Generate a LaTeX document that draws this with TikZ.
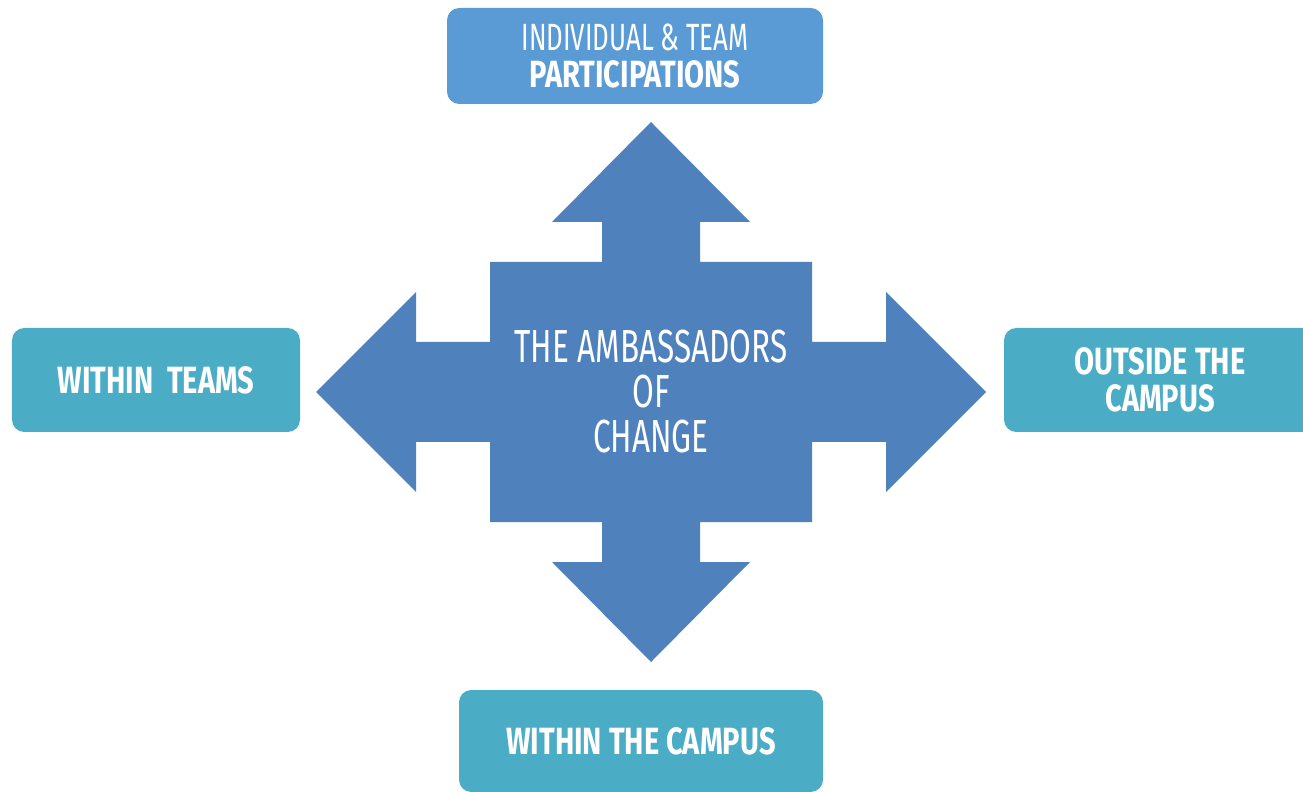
\documentclass[tikz,border=0pt]{standalone}
\usepackage{fontspec}
\newfontfamily\oswald[FakeStretch=0.68]{Fira Sans}
\newfontfamily\oswaldbold[FakeStretch=0.765]{Fira Sans}
\newcommand{\heavy}[1]{{\oswaldbold\bfseries #1}}
\usepackage{tikz}
\usetikzlibrary{positioning,calc}
\usepackage{xcolor}
\definecolor{topcolor}{RGB}{91, 155, 213}
\definecolor{sidecolor}{RGB}{75, 172, 198}
\definecolor{hubcolor}{RGB}{79, 129, 189}

\begin{document}
\begin{tikzpicture}[
    box/.style={rectangle, rounded corners=3.5pt, align=center, text=white, inner sep=0pt, font={\oswald\fontsize{10.8}{10.5}\selectfont}},
    topbox/.style={box, fill=topcolor},
    sidebox/.style={box, fill=sidecolor},
    hub/.style={fill=hubcolor},
    hubtext/.style={align=center, text=white, font={\oswald\fontsize{13.2}{12.8}\selectfont}},
]
    \clip (0, 0) rectangle (13.03, 7.91);

    % Outer boxes
    \node[topbox, minimum width=3.76cm, minimum height=0.96cm] (team) at (6.35, 7.35) {INDIVIDUAL \& TEAM\\\heavy{PARTICIPATIONS}};
    \node[sidebox, minimum width=2.88cm, minimum height=1.04cm] (within) at (1.56, 4.11) {\heavy{WITHIN\ \ TEAMS}};
    \node[sidebox, minimum width=3.12cm, minimum height=1.04cm] (outside) at (11.60, 4.11) {\heavy{OUTSIDE THE}\\\heavy{CAMPUS}};
    \node[sidebox, minimum width=3.64cm, minimum height=1.02cm] (campus) at (6.41, 0.50) {\heavy{WITHIN THE CAMPUS}};

    % Four-way arrow
    \coordinate (mid) at (6.51, 3.99);
    \fill[hub, shift={(mid)}]
        (-1.61, 1.30) -- (-0.49, 1.30) -- (-0.49, 1.70) -- (-0.99, 1.70) -- (0, 2.70)
        -- (0.99, 1.70) -- (0.49, 1.70) -- (0.49, 1.30) -- (1.61, 1.30)
        -- (1.61, 0.50) -- (2.35, 0.50) -- (2.35, 1.00) -- (3.35, 0) -- (2.35, -1.00)
        -- (2.35, -0.50) -- (1.61, -0.50) -- (1.61, -1.30) -- (0.49, -1.30)
        -- (0.49, -1.70) -- (0.99, -1.70) -- (0, -2.70) -- (-0.99, -1.70)
        -- (-0.49, -1.70) -- (-0.49, -1.30) -- (-1.61, -1.30) -- (-1.61, -0.50)
        -- (-2.35, -0.50) -- (-2.35, -1.00) -- (-3.35, 0) -- (-2.35, 1.00)
        -- (-2.35, 0.50) -- (-1.61, 0.50) -- cycle;
    \node[hubtext] (core) at (mid) {THE AMBASSADORS\\OF\\CHANGE};
\end{tikzpicture}
\end{document}
